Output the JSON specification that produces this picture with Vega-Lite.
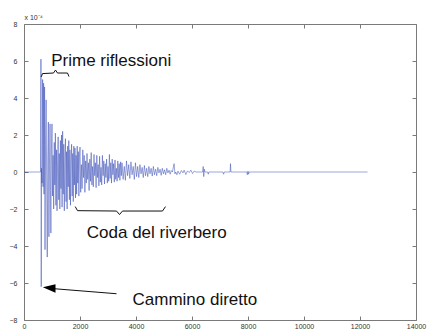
{
  "$schema": "https://vega.github.io/schema/vega-lite/v6.json",
  "width": 392,
  "height": 296,
  "autosize": "none",
  "padding": {"left": 24, "top": 24, "right": 13, "bottom": 11},
  "background": "white",
  "config": {
    "view": {"stroke": null},
    "axis": {
      "grid": false,
      "domainColor": "#7a7a7a",
      "tickColor": "#7a7a7a",
      "tickSize": -4,
      "labelFont": "Liberation Sans",
      "labelFontSize": 7,
      "labelColor": "#333333",
      "labelFlush": false
    }
  },
  "datasets": {
    "sig": [
      {"t":0,"v":0},{"t":590,"v":0},{"t":605,"v":6.1},{"t":615,"v":-6.2},{"t":625,"v":0.2},{"t":645,"v":-0.6},{"t":665,"v":5.0},{"t":680,"v":-0.8},{"t":700,"v":4.8},{"t":715,"v":-1.2},{"t":735,"v":4.6},{"t":750,"v":-4.2},{"t":770,"v":1.5},{"t":790,"v":3.9},{"t":810,"v":-0.6},{"t":830,"v":-4.6},{"t":850,"v":0.8},{"t":870,"v":2.7},{"t":890,"v":-3.5},{"t":910,"v":0.4},{"t":930,"v":2.6},{"t":945,"v":-1.0},{"t":960,"v":-3.3},{"t":980,"v":1.2},
      {"t":1000,"v":2.6},{"t":1020,"v":-1.3},{"t":1040,"v":0.9},{"t":1060,"v":-2.0},{"t":1080,"v":1.6},{"t":1100,"v":-0.7},{"t":1120,"v":2.1},{"t":1140,"v":-1.8},{"t":1160,"v":1.2},{"t":1180,"v":-2.1},{"t":1200,"v":0.6},{"t":1220,"v":1.9},{"t":1240,"v":-1.5},{"t":1260,"v":1.0},{"t":1280,"v":-2.0},{"t":1300,"v":1.7},{"t":1320,"v":-0.9},{"t":1340,"v":2.0},{"t":1360,"v":-1.9},{"t":1380,"v":2.2},{"t":1400,"v":-1.2},{"t":1420,"v":1.5},{"t":1440,"v":-2.1},{"t":1460,"v":0.8},{"t":1480,"v":1.8},{"t":1500,"v":-1.6},{"t":1520,"v":1.1},{"t":1540,"v":-2.0},{"t":1560,"v":1.4},{"t":1580,"v":-0.8},{"t":1600,"v":1.7},{"t":1620,"v":-1.5},{"t":1640,"v":1.2},{"t":1660,"v":-1.8},{"t":1680,"v":0.6},{"t":1700,"v":1.5},{"t":1720,"v":-1.3},{"t":1740,"v":1.0},{"t":1760,"v":-1.6},{"t":1780,"v":1.4},{"t":1800,"v":-0.7},{"t":1820,"v":1.3},{"t":1840,"v":-1.4},{"t":1860,"v":0.9},{"t":1880,"v":-1.2},{"t":1900,"v":1.4},{"t":1920,"v":-0.6},{"t":1940,"v":1.1},{"t":1960,"v":-1.3},{"t":1980,"v":0.8},
      {"t":2000,"v":1.35},{"t":2025,"v":-1.1},{"t":2050,"v":0.4},{"t":2075,"v":-0.9},{"t":2100,"v":1.2},{"t":2125,"v":-0.3},{"t":2150,"v":0.9},{"t":2175,"v":-1.1},{"t":2200,"v":0.6},{"t":2225,"v":-0.6},{"t":2250,"v":1.0},{"t":2275,"v":-0.4},{"t":2300,"v":0.5},{"t":2325,"v":-1.0},{"t":2350,"v":0.7},{"t":2375,"v":-0.5},{"t":2400,"v":1.05},{"t":2425,"v":-0.7},{"t":2450,"v":0.3},{"t":2475,"v":-0.8},{"t":2500,"v":0.95},{"t":2525,"v":-0.2},{"t":2550,"v":0.5},{"t":2575,"v":-0.85},{"t":2600,"v":0.9},{"t":2625,"v":-0.3},{"t":2650,"v":0.4},{"t":2675,"v":-0.75},{"t":2700,"v":0.85},{"t":2725,"v":-0.55},{"t":2750,"v":0.25},{"t":2775,"v":-0.7},{"t":2800,"v":0.9},{"t":2825,"v":-0.2},{"t":2850,"v":0.6},{"t":2875,"v":-0.65},{"t":2900,"v":0.45},{"t":2925,"v":-0.3},{"t":2950,"v":0.7},{"t":2975,"v":-0.6},{"t":3000,"v":0.3},{"t":3025,"v":-0.5},{"t":3050,"v":0.95},{"t":3075,"v":-0.35},{"t":3100,"v":0.5},{"t":3125,"v":-0.6},{"t":3150,"v":0.7},{"t":3175,"v":-0.15},{"t":3200,"v":0.45},{"t":3225,"v":-0.55},{"t":3250,"v":0.65},{"t":3275,"v":-0.4},{"t":3300,"v":0.2},{"t":3325,"v":-0.5},{"t":3350,"v":0.6},{"t":3375,"v":-0.3},{"t":3400,"v":0.45},{"t":3425,"v":-0.45},{"t":3450,"v":0.55},{"t":3475,"v":-0.2},
      {"t":3500,"v":0.5},{"t":3540,"v":-0.4},{"t":3580,"v":0.3},{"t":3620,"v":-0.45},{"t":3660,"v":0.6},{"t":3700,"v":-0.2},{"t":3740,"v":0.4},{"t":3780,"v":-0.35},{"t":3820,"v":0.55},{"t":3860,"v":-0.15},{"t":3900,"v":0.3},{"t":3940,"v":-0.4},{"t":3980,"v":0.5},{"t":4020,"v":-0.25},{"t":4060,"v":0.3},{"t":4100,"v":-0.3},{"t":4140,"v":0.4},{"t":4180,"v":-0.1},{"t":4220,"v":0.25},{"t":4260,"v":-0.3},{"t":4300,"v":0.35},{"t":4340,"v":-0.2},{"t":4380,"v":0.2},{"t":4420,"v":-0.25},{"t":4460,"v":0.3},{"t":4500,"v":-0.1},{"t":4540,"v":0.2},{"t":4580,"v":-0.22},{"t":4620,"v":0.3},{"t":4660,"v":-0.15},{"t":4700,"v":0.15},{"t":4740,"v":-0.2},{"t":4780,"v":0.25},{"t":4820,"v":-0.05},{"t":4860,"v":0.15},{"t":4900,"v":-0.18},{"t":4940,"v":0.2},{"t":4980,"v":-0.1},{"t":5020,"v":0.12},{"t":5060,"v":-0.15},{"t":5100,"v":0.2},{"t":5140,"v":-0.05},{"t":5180,"v":0.1},{"t":5220,"v":-0.12},{"t":5260,"v":0.08},{"t":5300,"v":0.0},{"t":5360,"v":0.45},{"t":5390,"v":-0.1},{"t":5420,"v":0.0},{"t":5460,"v":-0.15},
      {"t":5500,"v":0.05},{"t":5560,"v":-0.12},{"t":5620,"v":0.08},{"t":5680,"v":-0.05},{"t":5720,"v":0.1},{"t":5780,"v":-0.14},{"t":5840,"v":0.06},{"t":5900,"v":-0.03},{"t":5960,"v":0.1},{"t":6020,"v":-0.08},{"t":6080,"v":0.05},{"t":6140,"v":0.0},{"t":6380,"v":0.0},{"t":6400,"v":0.3},{"t":6420,"v":-0.25},{"t":6440,"v":0.15},{"t":6460,"v":0.0},{"t":6560,"v":0.0},{"t":6580,"v":-0.12},{"t":6600,"v":0.0},{"t":7100,"v":0.0},{"t":7130,"v":-0.12},{"t":7150,"v":0.0},{"t":7360,"v":0.0},{"t":7375,"v":0.45},{"t":7390,"v":0.0},{"t":7960,"v":0.0},{"t":7975,"v":-0.15},{"t":8000,"v":0.05},{"t":8020,"v":-0.12},{"t":8040,"v":0.0},{"t":12270,"v":0.0}
    ],
    "ann": [
      {"g":"b1","t":614,"v":5.14},{"g":"b1","t":661,"v":5.32},{"g":"b1","t":1054,"v":5.35},{"g":"b1","t":1125,"v":5.51},{"g":"b1","t":1196,"v":5.35},{"g":"b1","t":1554,"v":5.35},{"g":"b1","t":1607,"v":5.16},
      {"g":"b2","t":1829,"v":-1.87},{"g":"b2","t":1911,"v":-2.09},{"g":"b2","t":3304,"v":-2.11},{"g":"b2","t":3411,"v":-2.3},{"g":"b2","t":3518,"v":-2.11},{"g":"b2","t":4946,"v":-2.11},{"g":"b2","t":5054,"v":-1.87},
      {"g":"arrow","t":1089,"v":-6.31},{"g":"arrow","t":3304,"v":-6.58}
    ],
    "head": [{"t":898,"v":-6.3}],
    "txt": [
      {"t":971,"v":5.75,"label":"Prime riflessioni"},
      {"t":2243,"v":-3.56,"label":"Coda del riverbero"},
      {"t":3875,"v":-7.2,"label":"Cammino diretto"}
    ]
  },
  "layer": [
    {
      "data": {"name": "sig"},
      "mark": {"type": "line", "color": "#3448b4", "strokeWidth": 0.5, "interpolate": "linear"},
      "encoding": {
        "x": {"field": "t", "type": "quantitative", "scale": {"domain": [0, 14000], "nice": false, "zero": false},
              "axis": {"orient": "bottom", "values": [0,2000,4000,6000,8000,10000,12000,14000], "title": null, "labelPadding": 6, "format": "d"}},
        "y": {"field": "v", "type": "quantitative", "scale": {"domain": [-8, 8], "nice": false, "zero": false},
              "axis": {"orient": "left", "values": [-8,-6,-4,-2,0,2,4,6,8], "labelPadding": 11, "format": "d",
                       "title": "x 10⁻⁴", "titleAngle": 0, "titleX": 0, "titleY": -5, "titleAlign": "left", "titleBaseline": "alphabetic",
                       "titleFontSize": 7, "titleFontWeight": "normal", "titleFont": "Liberation Sans", "titleColor": "#333333"}}
      }
    },
    {
      "data": {"name": "ann"},
      "mark": {"type": "line", "color": "#111111", "strokeWidth": 1},
      "encoding": {
        "x": {"field": "t", "type": "quantitative", "axis": null},
        "y": {"field": "v", "type": "quantitative", "axis": null},
        "detail": {"field": "g"}
      }
    },
    {
      "data": {"name": "head"},
      "mark": {"type": "point", "shape": "M -1 -0.2 L 1 -0.68 L 1 0.68 Z", "size": 160, "filled": true, "color": "#000000", "opacity": 1},
      "encoding": {
        "x": {"field": "t", "type": "quantitative", "axis": null},
        "y": {"field": "v", "type": "quantitative", "axis": null}
      }
    },
    {
      "data": {"name": "txt"},
      "mark": {"type": "text", "align": "left", "baseline": "alphabetic", "font": "Liberation Sans", "fontSize": 17, "color": "#111111"},
      "encoding": {
        "x": {"field": "t", "type": "quantitative", "axis": {"orient": "top", "values": [0,2000,4000,6000,8000,10000,12000,14000], "labels": false, "title": null}},
        "y": {"field": "v", "type": "quantitative", "axis": {"orient": "right", "values": [-8,-6,-4,-2,0,2,4,6,8], "labels": false, "title": null}},
        "text": {"field": "label"}
      }
    }
  ],
  "resolve": {"axis": {"x": "independent", "y": "independent"}}
}
